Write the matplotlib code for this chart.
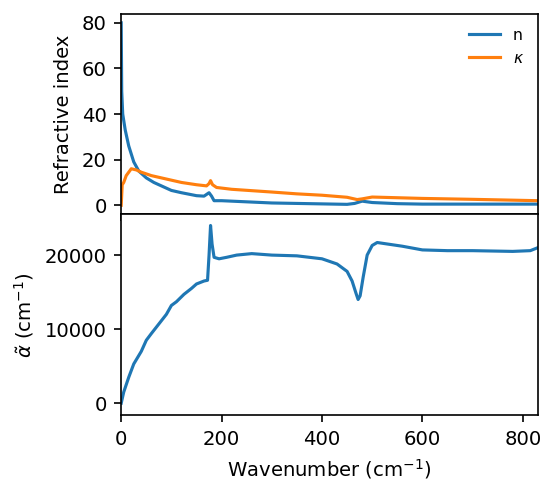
import numpy as np
import matplotlib
matplotlib.use("Agg")
import matplotlib.pyplot as plt

plt.rcParams['font.size'] = 9.4

# refractive index n
n_x = [0, 1, 3, 8, 15, 25, 35, 50, 65, 80, 100, 120, 150, 165, 175, 180, 185, 200, 250, 300, 400, 450, 465, 480, 500, 550, 600, 700, 830]
n_y = [80, 50, 40, 33, 26, 19, 15, 12, 10, 8.5, 6.5, 5.5, 4.2, 4.0, 5.5, 4.0, 2.0, 2.0, 1.5, 1.0, 0.6, 0.4, 0.8, 1.8, 1.2, 0.7, 0.5, 0.5, 0.5]

# extinction coefficient kappa
k_x = [0, 2, 5, 10, 20, 30, 40, 60, 80, 100, 120, 150, 170, 175, 178, 182, 190, 220, 300, 350, 400, 450, 470, 480, 500, 550, 600, 700, 830]
k_y = [0, 9, 10, 13, 16, 15.5, 14.5, 13, 12, 11, 10, 9, 8.5, 9.5, 10.8, 9, 7.8, 7, 5.8, 5, 4.4, 3.5, 2.5, 2.8, 3.6, 3.3, 3.0, 2.6, 2.0]

# absorption coefficient
a_x = [0, 5, 15, 25, 40, 50, 60, 75, 90, 100, 110, 125, 140, 150, 165, 172, 175, 178, 181, 185, 195, 210, 230, 260, 280, 300, 350, 400, 430, 450, 460, 468, 472, 476, 482, 490, 500, 510, 530, 560, 600, 650, 700, 780, 815, 830]
a_y = [0, 1500, 3500, 5300, 7000, 8500, 9400, 10700, 12000, 13200, 13700, 14700, 15500, 16100, 16500, 16600, 20000, 24000, 21500, 19700, 19500, 19700, 20000, 20200, 20100, 20000, 19900, 19500, 18800, 17800, 16500, 14800, 14000, 14500, 17000, 20000, 21300, 21700, 21500, 21200, 20700, 20600, 20600, 20500, 20600, 21000]

fig, (ax1, ax2) = plt.subplots(2, 1, sharex=True, figsize=(546/150, 490/150), dpi=150)
fig.subplots_adjust(left=0.222, right=0.985, top=0.972, bottom=0.153, hspace=0)

ax1.plot(n_x, n_y, label="n", color="#1f77b4")
ax1.plot(k_x, k_y, label=r"$\kappa$", color="#ff7f0e")
ax1.set_ylim(-4, 84)
ax1.set_yticks([0, 20, 40, 60, 80])
ax1.set_ylabel("Refractive index")
ax1.legend(frameon=False, fontsize=7.5, loc="upper right")

ax2.plot(a_x, a_y, color="#1f77b4")
ax2.set_ylim(-1600, 25500)
ax2.set_yticks([0, 10000, 20000])
ax2.set_ylabel(r"$\tilde{\alpha}$ (cm$^{-1}$)")
ax2.set_xlim(0, 830)
ax2.set_xlabel(r"Wavenumber (cm$^{-1}$)")

fig.savefig("out.png", dpi=150)
